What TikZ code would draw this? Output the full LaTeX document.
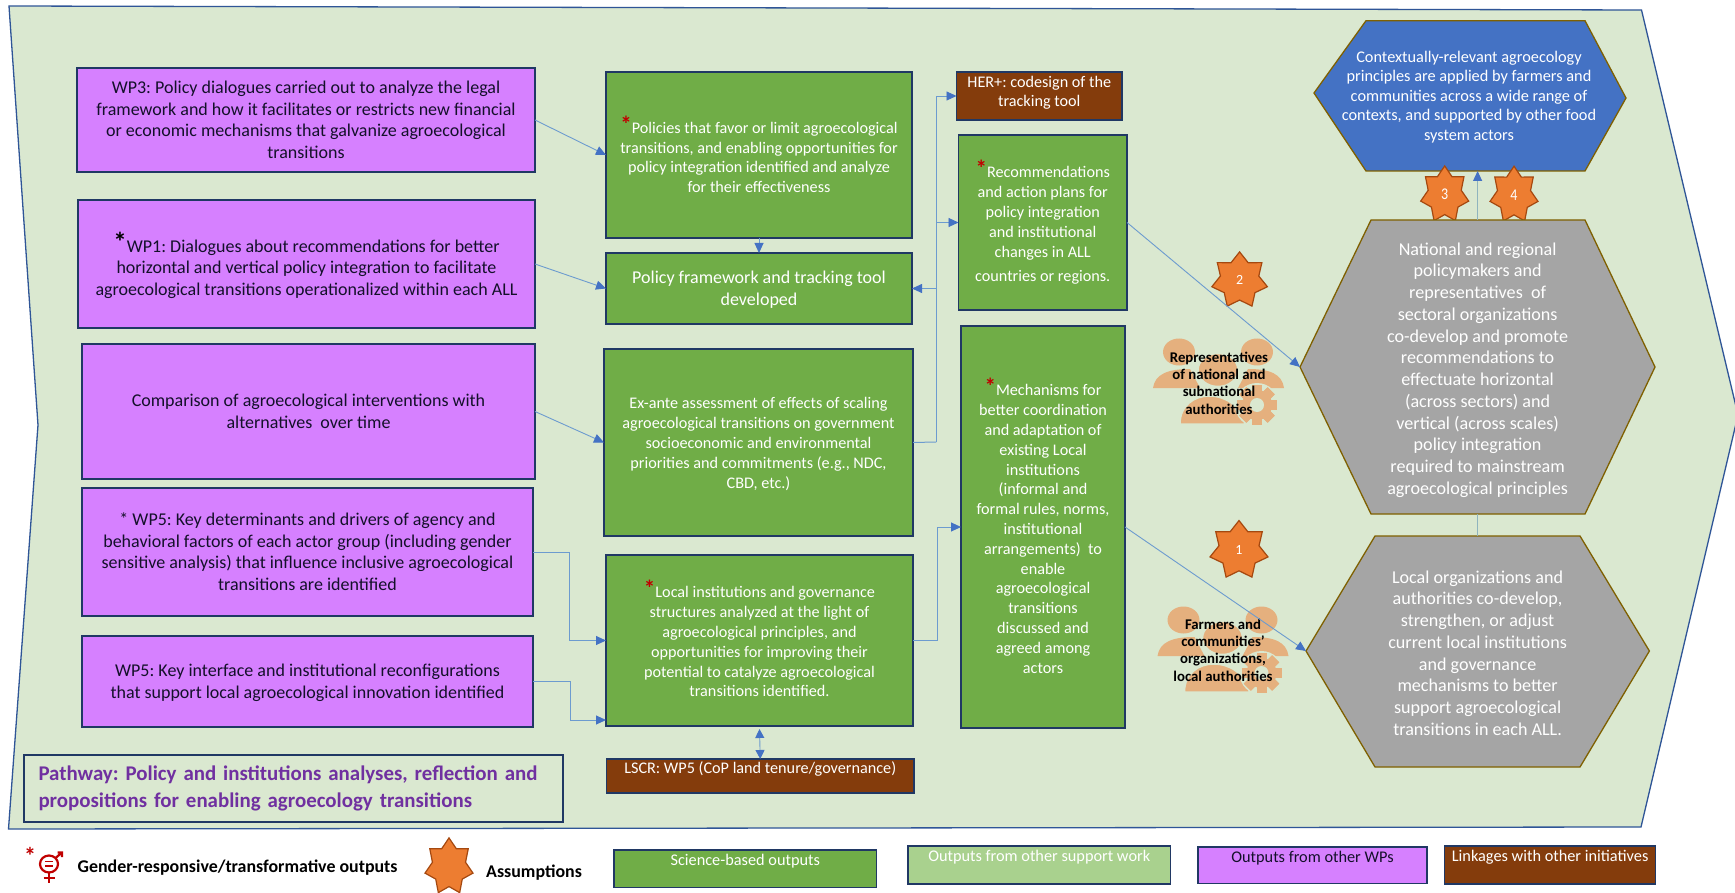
\documentclass[tikz,border=0pt]{standalone}
\usepackage{fontspec}
\setmainfont{Carlito}
\usetikzlibrary{arrows.meta,shapes.geometric}
\AtBeginDocument{\frenchspacing}
\definecolor{bgc}{HTML}{DAE8D0}
\definecolor{bgl}{HTML}{2F5597}
\definecolor{pur}{HTML}{D680FF}
\definecolor{grn}{HTML}{70AD47}
\definecolor{lgrn}{HTML}{A9D18E}
\definecolor{brn}{HTML}{843C0C}
\definecolor{gry}{HTML}{A5A5A5}
\definecolor{blu}{HTML}{4472C4}
\definecolor{org}{HTML}{ED7D31}
\definecolor{orgl}{HTML}{A5480F}
\definecolor{hexl}{HTML}{7F6000}
\definecolor{frame}{HTML}{203864}
\definecolor{arrl}{HTML}{6C9BCF}
\definecolor{vert}{HTML}{8FB4BE}
\definecolor{ppl}{HTML}{E5B07E}
\definecolor{redc}{HTML}{C00000}
\definecolor{pathc}{HTML}{7030A0}
\definecolor{txtd}{HTML}{14102A}
\newcommand{\bx}[8]{\node[#1,minimum width={(#5-#3)*1pt},minimum height={(#6-#4)*1pt}] (#2) at ({(#3+#5)/2},{(#4+#6)/2}) {\raisebox{\dimexpr-#7pt-0.33em\relax}[0pt][0pt]{\begin{tabular}{@{}c@{}}#8\end{tabular}}};}
\newcommand{\rs}{\smash{\textcolor{redc}{\raisebox{1pt}{\fontsize{23}{23}\selectfont\textbf{*}}}}}
\newcommand{\peopleicon}[2]{\begin{scope}[shift={(#1,#2)}]
 \fill[ppl] (1179,352) ellipse [x radius=16,y radius=13.5];
 \fill[ppl] (1257,352) ellipse [x radius=16,y radius=13.5];
 \fill[ppl] (1153,388) .. controls (1155,374) and (1168,369) .. (1190,369) -- (1200,388) -- cycle;
 \fill[ppl] (1284,388) .. controls (1282,374) and (1270,369) .. (1248,369) -- (1238,388) -- cycle;
 \draw[bgc,line width=1.5,fill=ppl] (1218,370) ellipse [x radius=20,y radius=16.5];
 \draw[bgc,line width=1.5,fill=ppl] (1180,424) .. controls (1180,405) and (1195,396) .. (1209,396) .. controls (1225,396) and (1240,405) .. (1245,424) -- cycle;
 \fill[bgc] (1257,405) circle [radius=22];
 \foreach \a in {0,45,...,315}{\fill[ppl,rotate around={\a:(1257,405)}] (1252,385) rectangle (1262,425);}
 \fill[ppl] (1257,405) circle [radius=15];
 \fill[bgc] (1257,405) circle [radius=7];
\end{scope}}
\tikzset{
 x=1pt,y=-1pt,
 base/.style={draw=frame,line width=1.4,inner sep=0,outer sep=0,rectangle},
 pbox/.style={base,fill=pur,text=txtd,font=\fontsize{18}{21.7}\selectfont},
 gbox/.style={base,fill=grn,text=white,font=\fontsize{16.2}{19.8}\selectfont},
 gbig/.style={base,fill=grn,text=white,font=\fontsize{18}{21.7}\selectfont},
 bbox/.style={base,fill=brn,text=white,font=\fontsize{16.2}{19.4}\selectfont},
 pathbox/.style={base,fill=bgc,text=pathc,font=\bfseries\fontsize{20.9}{27}\selectfont},
 lgs/.style={base,fill=grn,text=white,font=\fontsize{16.3}{18}\selectfont},
 lgo/.style={base,fill=lgrn,text=white,font=\fontsize{16.3}{18}\selectfont},
 lgp/.style={base,fill=pur,text=txtd,font=\fontsize{16.3}{18}\selectfont},
 lgb/.style={base,fill=brn,text=white,font=\fontsize{16.3}{18}\selectfont},
 hexs/.style={draw=hexl,line width=1.3},
 hext/.style={align=center,text=white,inner sep=0,font=\fontsize{18.1}{21.72}\selectfont},
 hextb/.style={align=center,text=white,inner sep=0,font=\fontsize{16.3}{19.6}\selectfont},
 staro/.style={star,star points=7,star point ratio=1.45,draw=orgl,line width=1.2,fill=org,inner sep=0,outer sep=0,text=white,font=\fontsize{14}{15}\selectfont},
 icont/.style={align=center,inner sep=0,text=black,font=\bfseries\fontsize{14.8}{17.4}\selectfont},
 legt/.style={inner sep=0,text=black,font=\bfseries\fontsize{17.9}{20}\selectfont},
 arr/.style={draw=arrl,line width=0.9,-{Triangle[length=10,width=9,color=blu]}},
 arrb/.style={draw=arrl,line width=0.9,{Triangle[length=9,width=9,color=blu]}-{Triangle[length=9,width=9,color=blu]}},
 vline/.style={draw=vert,line width=1},
 gender/.style={draw=redc,line width=2.2},
}
\begin{document}
\begin{tikzpicture}
\useasboundingbox (0,0) rectangle (1735,893);
\fill[white] (0,0) rectangle (1735,893);
% background arrow shape
\draw[fill=bgc,draw=bgl,line width=1.3] (9,6) -- (1641.5,10) -- (1738,415) -- (1641,827) -- (8.5,829) -- (38,425) -- cycle;
% left column
\bx{pbox}{p1}{77}{68}{535}{172}{0}{WP3: Policy dialogues carried out to analyze the legal\\framework and how it facilitates or restricts new financial\\or economic mechanisms that galvanize agroecological\\transitions}
\bx{pbox}{p2}{78}{200}{535}{328}{4}{\smash{\textcolor{black}{\raisebox{1pt}{\fontsize{27}{27}\selectfont\textbf{*}}}}WP1: Dialogues about recommendations for better\\horizontal and vertical policy integration to facilitate\\agroecological transitions operationalized within each ALL}
\bx{pbox}{p3}{82}{344}{535}{479}{0}{Comparison of agroecological interventions with\\alternatives\ \ over time}
\bx{pbox}{p4}{82}{488}{533}{616}{0}{* WP5: Key determinants and drivers of agency and\\behavioral factors of each actor group (including gender\\sensitive analysis) that influence inclusive agroecological\\transitions are identified}
\bx{pbox}{p5}{82}{636}{533}{727}{0}{WP5: Key interface and institutional reconfigurations\\that support local agroecological innovation identified}
\node[pathbox,align=left,minimum width=539,minimum height=67,text width=510] (pathw) at (293.5,788.5) {Pathway: Policy and institutions analyses, reflection and\\propositions for enabling agroecology transitions};
% middle column
\bx{gbox}{g1}{606}{72}{912}{238}{3}{\rs Policies that favor or limit agroecological\\transitions, and enabling opportunities for\\policy integration identified and analyze\\for their effectiveness}
\bx{gbig}{g2}{606}{253}{912}{324}{0}{Policy framework and tracking tool\\developed}
\bx{gbox}{g3}{604}{349}{913}{536}{1}{Ex-ante assessment of effects of scaling\\agroecological transitions on government\\socioeconomic and environmental\\priorities and commitments (e.g., NDC,\\CBD, etc.)}
\bx{gbox}{g4}{606}{555}{913}{726}{2}{\rs Local institutions and governance\\structures analyzed at the light of\\agroecological principles, and\\opportunities for improving their\\potential to catalyze agroecological\\transitions identified.}
\bx{bbox}{lscr}{606.5}{759}{914}{793}{-7}{LSCR: WP5 (CoP land tenure/governance)}
\bx{bbox}{her}{956.5}{72}{1122}{120}{-4}{HER+: codesign of the\\tracking tool}
\bx{gbox}{g5}{958.5}{135}{1127}{310}{2.5}{\rs Recommendations\\and action plans for\\policy integration\\and institutional\\changes in ALL\\[5pt]countries or regions.}
\bx{gbox}{g6}{961}{326}{1125}{728}{2.5}{\rs Mechanisms for\\better coordination\\and adaptation of\\existing Local\\institutions\\(informal and\\formal rules, norms,\\institutional\\arrangements)\ \ to\\enable\\agroecological\\transitions\\discussed and\\agreed among\\actors}
% hexagons and assumptions
\draw[hexs,fill=blu] (1314,93) -- (1366,20.7) -- (1585,20.7) -- (1626,98) -- (1585,171) -- (1366,171) -- cycle;
\node[hextb] (blue) at (1469,97) {Contextually-relevant agroecology\\principles are applied by farmers and\\communities across a wide range of\\contexts, and supported by other food\\system actors};
\node[staro,minimum size=49.2,transform shape,yscale=1.17] (s3) at (1444.7,194.7) {3};
\node[staro,minimum size=49.2,transform shape,yscale=1.17] (s4) at (1514,195) {4};
\draw[hexs,fill=gry] (1300,367) -- (1371,220) -- (1585,220) -- (1655,367) -- (1585,514) -- (1371,514) -- cycle;
\node[hext] (nat) at (1477.6,370) {National and regional\\policymakers and\\representatives\ \ of\\sectoral organizations\\co-develop and promote\\recommendations to\\effectuate horizontal\\(across sectors) and\\vertical (across scales)\\policy integration\\required to mainstream\\agroecological principles};
\draw[hexs,fill=gry] (1306,651) -- (1375,536) -- (1580,536) -- (1649.4,651) -- (1580,767) -- (1375,767) -- cycle;
\node[hext] (loc) at (1477.6,653) {Local organizations and\\authorities co-develop,\\strengthen, or adjust\\current local institutions\\and governance\\mechanisms to better\\support agroecological\\transitions in each ALL.};
\node[staro,minimum size=57] (s2) at (1239.6,280.4) {2};
\node[staro,minimum size=59.5] (s1) at (1239,550.3) {1};
\coordinate (natL) at (1300,367);
\coordinate (natT) at (1477.6,220);
\coordinate (natB) at (1477.6,514);
\coordinate (locL) at (1306,651);
\coordinate (locT) at (1477.6,536);
\coordinate (bluB) at (1477.6,171);
\coordinate (jn) at (936,442);
% people
\peopleicon{0}{0}
\peopleicon{4.5}{268}
\node[icont] (rep) at (1219,383) {Representatives\\of national and\\subnational\\authorities};
\node[icont] (farm) at (1223,650) {Farmers and\\communities’\\organizations,\\local authorities};
% connectors
\draw[arr] (p1.east) -- (g1.west);
\draw[arr] (p2.east) -- (g2.west);
\draw[arr] (p3.east) -- (g3.west);
\draw[arr] (p4.east) -- ++(36,0) |- (g4.west);
\draw[arr] (p5.east) -- ++(37,0) |- ([yshift=6pt]g4.south west);
\draw[arr] (g1.south) -- (g2.north);
\draw[vline,draw=arrl] (g3.east) -- (jn);
\draw[arr] (jn) |- (g2.east);
\draw[arr] (jn) |- (g5.west);
\draw[arr] (jn) |- (her.west);
\draw[arr] (g4.east) -- ++(24,0) |- (g6.west);
\draw[arrb] (g4.south) ++(0,3) -- (lscr.north);
\draw[arr] (g5.east) -- (natL);
\draw[arr] (g6.east) -- (locL);
\draw[vline] (locT) -- (natB);
\draw[vline,-{Triangle[length=10,width=9,color=blu]}] (natT) -- (bluB);
% legend
\bx{lgs}{l1}{614}{850}{876.6}{887.7}{-8}{Science-based outputs}
\bx{lgo}{l2}{908}{846}{1170.5}{884}{-8}{Outputs from other support work}
\bx{lgp}{l3}{1198}{847}{1427}{883.5}{-7}{Outputs from other WPs}
\bx{lgb}{l4}{1444.7}{846}{1655.6}{884}{-8}{Linkages with other initiatives}
\node[staro,minimum size=49.2,transform shape,yscale=1.17] (ls) at (449,866.7) {};
\node[legt,anchor=west] (lga) at (486,872.5) {Assumptions};
\node[legt,anchor=west] (lgg) at (77.5,868) {Gender-responsive/transformative outputs};
\node[inner sep=0,text=redc,font=\bfseries\fontsize{24}{24}\selectfont] (lgs) at (30,856) {*};
\draw[gender] (49,864) ellipse [x radius=9,y radius=8.5];
\draw[gender] (49,873) -- (49,883) (43.5,878) -- (54.5,878);
\draw[gender] (55.5,858) -- (62,852.5) (57.5,852.5) -- (62,852.5) -- (62,857);
\draw[redc,line width=1.5] (45,861.5) -- (53,861.5) (45,866) -- (53,866);
\end{tikzpicture}
\end{document}
